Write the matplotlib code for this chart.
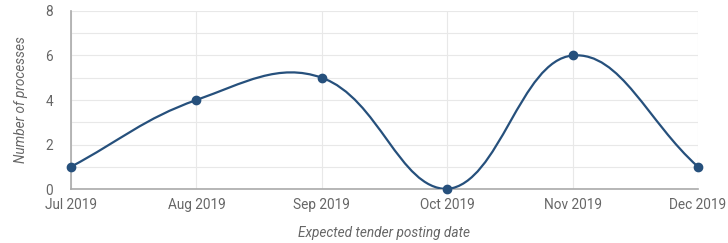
import matplotlib
matplotlib.use("Agg")
from matplotlib import pyplot as plt
from matplotlib.path import Path
from matplotlib.patches import PathPatch
import numpy as np

months = ["Jul 2019", "Aug 2019", "Sep 2019", "Oct 2019", "Nov 2019", "Dec 2019"]
processes = [1, 4, 5, 0, 6, 1]
y_ticks = [0, 2, 4, 6, 8]

LINE = "#26507c"
GRID = "#e8e8e8"
TEXT = "#666666"
TENSION = 0.4
FS = 9.8

plt.rcParams["font.family"] = ["Roboto", "DejaVu Sans"]

fig = plt.figure(figsize=(7.28, 2.43), dpi=100)
ax = fig.add_axes([71 / 728, 54 / 243, 627 / 728, 178 / 243])
xs = np.arange(len(months))
ax.set_xlim(0, len(months) - 1)
ax.set_ylim(0, 8)


def spline_controls(pts, t):
    # chart.js style control points, worked out in pixel space
    n = len(pts)
    ctrl = []
    for i in range(n):
        prev = pts[max(i - 1, 0)]
        cur = pts[i]
        nxt = pts[min(i + 1, n - 1)]
        d01 = np.hypot(*(cur - prev))
        d12 = np.hypot(*(nxt - cur))
        tot = d01 + d12
        s01 = d01 / tot if tot else 0
        s12 = d12 / tot if tot else 0
        fa, fb = t * s01, t * s12
        ctrl.append((cur - fa * (nxt - prev), cur + fb * (nxt - prev)))
    return ctrl


disp = ax.transData.transform(np.column_stack([xs, processes]))
ctrl = spline_controls(disp, TENSION)
inv = ax.transData.inverted()
verts = [disp[0]]
codes = [Path.MOVETO]
for i in range(1, len(disp)):
    verts += [ctrl[i - 1][1], ctrl[i][0], disp[i]]
    codes += [Path.CURVE4] * 3
verts = inv.transform(np.array(verts))
verts[:, 1] = np.clip(verts[:, 1], 0, 8)
ax.add_patch(PathPatch(Path(verts, codes), fill=False, edgecolor=LINE, lw=1.6, zorder=3))
ax.plot(xs, processes, "o", color=LINE, ms=6, zorder=4, clip_on=False)

ax.set_yticks(np.arange(0, 9, 1), minor=True)
ax.set_yticks(y_ticks)
ax.set_xticks(xs)
ax.set_xticklabels(months)
ax.grid(True, which="both", color=GRID, lw=0.8)
ax.set_axisbelow(True)
ax.tick_params(which="both", length=0, colors=TEXT, labelsize=FS)
ax.tick_params(axis="y", pad=13)
ax.tick_params(axis="x", pad=6.5)
for s in ["top", "right"]:
    ax.spines[s].set_visible(False)
for s in ["left", "bottom"]:
    ax.spines[s].set_color("#aaaaaa")
    ax.spines[s].set_linewidth(1.2)

ax.set_ylabel("Number of processes", fontstyle="italic", color=TEXT, fontsize=FS)
ax.yaxis.set_label_coords(-0.068, 0.5)
ax.set_xlabel("Expected tender posting date", fontstyle="italic", color=TEXT, fontsize=FS)
ax.xaxis.set_label_coords(0.5, -0.208)

fig.savefig("out.png", dpi=100)
